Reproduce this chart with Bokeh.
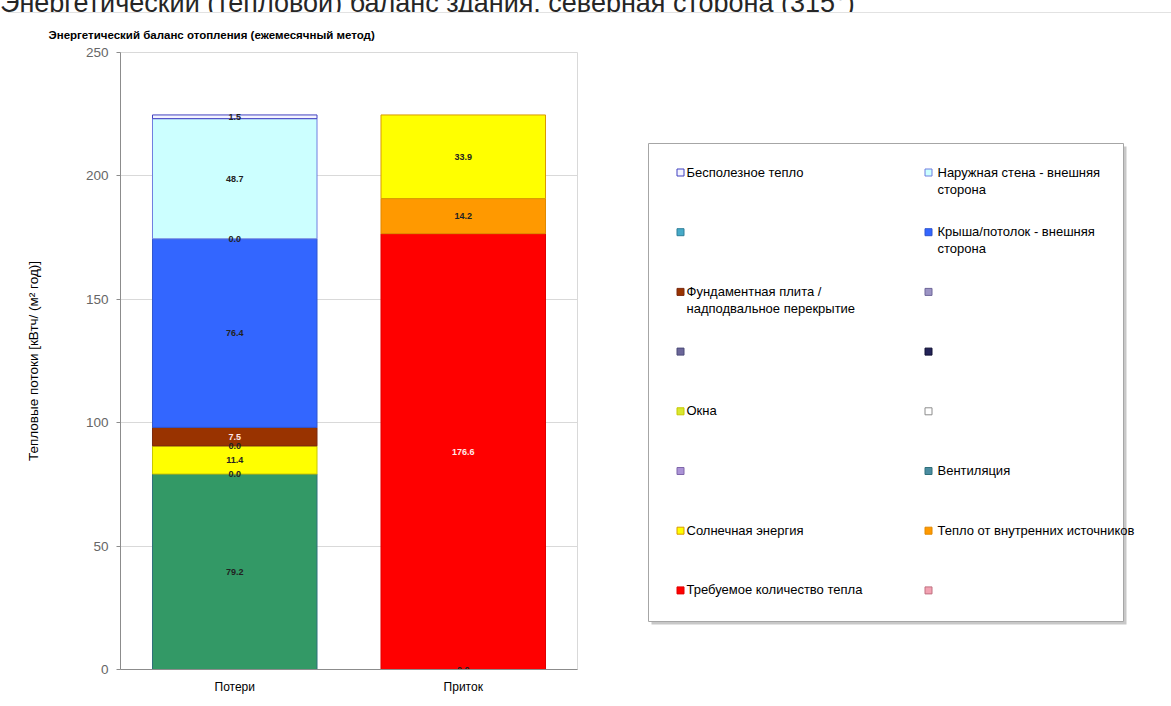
from bokeh.plotting import figure
from bokeh.layouts import column, row
from bokeh.models import ColumnDataSource, Div, Range1d, FactorRange
from bokeh.core.properties import value
from bokeh.embed import file_html
from bokeh.resources import INLINE

# ---- data -------------------------------------------------------------
header_text = "Энергетический (тепловой) баланс здания, северная сторона (315°)"
chart_title = "Энергетический баланс отопления (ежемесячный метод)"
y_label = "Тепловые потоки [кВтч/ (м² год)]"
categories = ["Потери", "Приток"]
y_ticks = [0, 50, 100, 150, 200, 250]

# series in legend order (stacked bottom-up in reverse order)
series_names = [
    "Бесполезное тепло",
    "Наружная стена - внешняя\nсторона",
    "",
    "Крыша/потолок - внешняя\nсторона",
    "Фундаментная плита /\nнадподвальное перекрытие",
    "",
    "",
    "",
    "Окна",
    "",
    "",
    "Вентиляция",
    "Солнечная энергия",
    "Тепло от внутренних источников",
    "Требуемое количество тепла",
    "",
]
losses = [1.5, 48.7, 0.0, 76.4, 7.5, None, None, 0.0, 11.4, 0.0, None, 79.2,
          None, None, None, None]
gains = [None, None, None, None, None, None, None, None, None, None, None, None,
         33.9, 14.2, 176.6, 0.0]

# ---- styles -----------------------------------------------------------
fill_colors = ["#f4f4ff", "#ccffff", "#46aac8", "#3366ff", "#993300", "#9c94c4",
               "#6b6699", "#232358", "#ffff00", "#ffffff", "#ab93d6", "#339966",
               "#ffff00", "#ff9900", "#ff0000", "#f2a2b2"]
line_colors = ["#4040c0", "#6f7fe0", "#2f7f99", "#2f55d0", "#7a2a10", "#6e6699",
               "#4a4a77", "#111133", "#c8c800", "#8c8c8c", "#7f66aa", "#2f6f7a",
               "#d99a00", "#e08800", "#e00000", "#c07080"]
legend_colors = list(fill_colors)
legend_colors[11] = "#4a8ca0"
legend_colors[8] = "#d8e830"
label_colors = ["#222222"] * 16
label_colors[4] = "#ffe8e8"
label_colors[14] = "#ffe8e8"

FONT = "Liberation Sans"
HEAD_H = 13          # height of the page header strip
FIG_H = 706 - HEAD_H
TOP_B, BOT_B = 39, 37

# ---- stacked segments -------------------------------------------------
seg = dict(x=[], bottom=[], top=[], mid=[], fill=[], line=[], lalpha=[],
           txt=[], tcol=[])
for cat, vals in zip(categories, [losses, gains]):
    base = 0.0
    for i in reversed(range(len(series_names))):
        v = vals[i]
        if v is None:
            continue
        seg["x"].append(cat)
        seg["bottom"].append(base)
        seg["top"].append(base + v)
        seg["mid"].append(base + v / 2.0)
        seg["fill"].append(fill_colors[i])
        seg["line"].append(line_colors[i])
        seg["lalpha"].append(1.0 if v > 0 else 0.0)
        seg["txt"].append(f"{v:.1f}")
        seg["tcol"].append(label_colors[i])
        base += v
src = ColumnDataSource(seg)

# ---- chart ------------------------------------------------------------
p = figure(x_range=FactorRange(*categories), y_range=Range1d(0, 250),
           width=640, height=FIG_H, output_backend="svg", toolbar_location=None,
           min_border_left=120, min_border_right=63, min_border_top=TOP_B,
           min_border_bottom=BOT_B, title=chart_title)
p.title.text_font = FONT
p.title.text_font_size = "11.5px"
p.title.text_font_style = "bold"
p.title.text_color = "#000000"
p.title.align = "left"
p.title.offset = -72
p.title.standoff = 24

p.vbar(x="x", bottom="bottom", top="top", width=0.72, source=src,
       fill_color="fill", line_color="line", line_alpha="lalpha", line_width=1)
p.text(x="x", y="mid", text="txt", source=src, text_color="tcol",
       text_font=value(FONT), text_font_size="9px", text_font_style="bold",
       text_align="center", text_baseline="middle")

p.xgrid.grid_line_color = None
p.ygrid.grid_line_color = "#d9d9d9"
p.outline_line_color = "#d9d9d9"
p.background_fill_color = "white"

p.yaxis.ticker = y_ticks
p.yaxis.axis_label = y_label
p.yaxis.axis_label_text_font = FONT
p.yaxis.axis_label_text_font_size = "13.5px"
p.yaxis.axis_label_text_font_style = "normal"
p.yaxis.axis_label_text_color = "#000000"
p.yaxis.axis_label_standoff = 42
p.yaxis.major_label_text_font = FONT
p.yaxis.major_label_text_font_size = "13.5px"
p.yaxis.major_label_text_color = "#666666"
p.yaxis.major_label_standoff = 8
p.yaxis.axis_line_color = "#8c8c8c"
p.yaxis.major_tick_line_color = "#8c8c8c"
p.yaxis.major_tick_out = 4
p.yaxis.major_tick_in = 0
p.yaxis.minor_tick_out = 0
p.yaxis.minor_tick_in = 0

p.xaxis.axis_line_color = "#8c8c8c"
p.xaxis.major_tick_out = 0
p.xaxis.major_tick_in = 0
p.xaxis.major_label_text_font = FONT
p.xaxis.major_label_text_font_size = "12px"
p.xaxis.major_label_text_color = "#000000"
p.xaxis.major_label_standoff = 10

# ---- legend panel (page pixel coordinates) ----------------------------
q = figure(x_range=Range1d(640, 1171), y_range=Range1d(706 - BOT_B, HEAD_H + TOP_B),
           width=531, height=FIG_H, output_backend="svg", toolbar_location=None,
           min_border_left=0, min_border_right=0, min_border_top=TOP_B,
           min_border_bottom=BOT_B, x_axis_type=None, y_axis_type=None)
q.grid.visible = False
q.outline_line_color = None

q.quad(left=[651], right=[1126], top=[146], bottom=[624],
       fill_color="#c8c8c8", line_color=None)
q.quad(left=[648], right=[1123], top=[143], bottom=[621],
       fill_color="white", line_color="#a6a6a6", line_width=1)

leg = dict(sx=[], sy=[], tx=[], ty=[], fill=[], line=[], txt=[])
for i, name in enumerate(series_names):
    col, r = i % 2, i // 2
    x0 = 680 if col == 0 else 928
    y0 = 172 + r * 59.7
    leg["sx"].append(x0)
    leg["sy"].append(y0)
    leg["tx"].append(x0 + (6 if col == 0 else 9))
    leg["ty"].append(y0 - 8)
    leg["fill"].append(legend_colors[i])
    leg["line"].append(line_colors[i])
    leg["txt"].append(name)
lsrc = ColumnDataSource(leg)
q.scatter(x="sx", y="sy", source=lsrc, marker="square", size=7,
          fill_color="fill", line_color="line", line_width=1)
q.text(x="tx", y="ty", text="txt", source=lsrc, text_font=value(FONT),
       text_font_size="13px", text_color="#000000", text_align="left",
       text_baseline="top", text_line_height=1.15)

# ---- header strip -----------------------------------------------------
head = Div(
    text=('<div style="font-family:\'Liberation Sans\',Arial,sans-serif;'
          'font-size:27px;line-height:27px;margin-top:-13px;color:#262626;'
          f'white-space:nowrap;">{header_text}</div>'
          '<div style="position:absolute;left:8px;right:0;top:12px;height:0;'
          'border-top:1px solid #e2e2e2;"></div>'),
    width=1171, height=HEAD_H, margin=0,
    styles={"overflow": "hidden", "position": "relative"})

layout = column(head, row(p, q, spacing=0), spacing=0)

open("out.html", "w").write(file_html(layout, INLINE))
